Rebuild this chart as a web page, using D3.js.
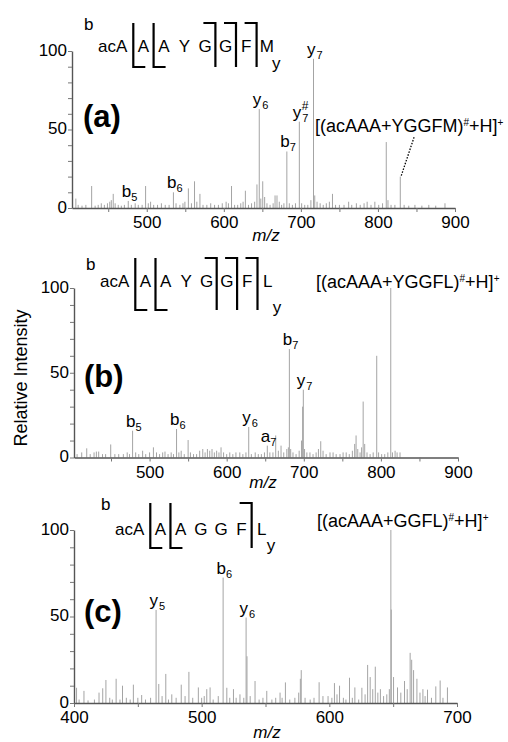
<!DOCTYPE html>
<html>
<head>
<meta charset="utf-8">
<script src="https://cdn.jsdelivr.net/npm/d3@7"></script>
<style>
body { margin: 0; background: white; }
text { font-family: "Liberation Sans", Arial, sans-serif; }
</style>
</head>
<body>
<script>
// MS/MS spectra of three cyclic/rearranged peptides: peaks are [m/z, relative intensity]

var peaksA = [[408,6],[411,2],[416,1.5],[421,2],[428.5,14],[433,1.5],[437,2],[441,3],[445,2],[449,3],[452,4],[454,5],[456.5,9],[459,3],[463,2],[467,1.5],[471,2],[476,4.5],[480,2],[485,3],[489,2],[494,2],[498.5,14],[502,3],[505,4],[509,2],[514,2],[519,3],[524,2],[529,2],[534.6,10],[538,3],[543,2],[547,3],[549.5,4],[554,12.5],[558,3],[562,17],[565,4],[569,9],[573,2],[578,2],[583,3],[588,2],[593,2],[598,3],[603,4],[606,3],[610,14],[614,2],[618,2],[622,3],[625,4],[628,11],[632,2],[636,3],[640,4],[643,15],[646,63],[648,6],[650.5,17],[653,7],[656,3],[660,2],[664,3],[666.5,8],[669,8],[672,4],[675,2],[678,3],[681.8,36],[685,3],[689,2],[693,3],[698,55],[701,3],[705,2],[709,2],[713,5],[716.4,95],[718,8],[721,4],[725,3],[729,2],[733,3],[737,4],[741,9],[745,2],[750,2],[756,2],[762,4],[766,2],[772,3],[777,2],[782,3],[786,4],[791,2],[796,4],[801,2],[806,3],[810.8,42],[813,5],[817,2],[822,2],[829,20],[834,2],[840,1.5],[848,2],[857,1.5],[866,2],[875,1.5],[887,3]];

var peaksB = [[406,2],[412,3],[418.5,5.4],[423,2],[428,3],[431,3.5],[434,3.5],[439,2],[443,2],[449.6,7.7],[455,2],[460,2],[466,2],[471,3],[474,2],[478,15.8],[482,3],[486,2],[491,4],[495,2],[500,3],[505,6],[509,3],[513,2],[517,3],[520,3.5],[524,2],[528,3],[531,2],[535,16.8],[538,3],[541,4],[545,2],[550,10.3],[553,3],[557,2],[561,2],[565,4],[569,5],[572,3],[575,5],[578,4],[581,5],[584,3],[587,4],[590,3],[592.7,6],[596,3],[600,2],[604,3],[608,2],[612,3],[617,3],[621,2],[625,3],[628.6,18],[632,2],[637,3],[641,2],[645,2],[649,3],[652.7,7],[656,3],[660,3],[663.6,13],[667,4],[670.5,7],[674,3],[678,5],[680,6],[681.3,64],[683,5],[686,3],[690,2],[694,4],[697,10],[698.5,30],[699.4,40],[701,5],[704,3],[708,3],[712,2],[716,3],[719,5],[722,9.6],[725,4],[729,2],[734,3],[738,3],[742,2],[747,2],[751,3],[755,3],[759,2],[763,4],[766,8],[767.8,13],[770,5],[773,3],[775,6],[777,33],[779,8],[782,3],[786,2],[790,3],[794.6,60],[797,3],[801,2],[805,2],[809,3],[812.8,100],[815,3],[818.4,4],[821,3],[824.8,3]];

var peaksC = [[402,8.8],[404,2],[407.8,7],[411,1.5],[416,2],[419.6,6],[422.5,8.5],[425,13.3],[428,3],[430,2],[433,14],[436,2],[438,10],[441,3],[444,2],[446.5,10.6],[450,3],[453,4.6],[456,2],[460,3],[464.3,53.8],[466.4,11],[469,4],[471.9,16.8],[474,2],[476.6,5],[480,3],[484,10.6],[487,4],[490,18],[493,3],[497.4,9],[500,3],[502,4],[504,8],[506.6,9],[509,2],[513,4],[516.8,72.5],[519.7,8.8],[522,3],[524.9,8],[527,3],[530,5],[533,3],[534.8,49.4],[535.5,27],[538,4],[541.8,12.7],[545,2],[548,3],[551,7],[555,2],[558,3],[561.4,6],[563,3],[565.6,11.9],[569,2],[573,3],[576,6],[577.3,14],[578,19],[581,3],[585,2],[588,3],[592,12],[595,4],[599,4],[602,3],[604,11.5],[606,5],[608,10],[611,3],[613,2],[615.8,14.6],[618,3],[620,9],[623,2],[625.5,8.8],[628,5],[630,22],[632,15],[634,8],[636,21],[638,6],[640,8],[642.5,4],[645,5],[647,8],[648.2,100],[648.5,54],[650.3,15],[653.4,9],[656,6],[658.9,12.7],[661,8],[663.3,29],[664.5,25],[666,19],[668.6,14],[671,6],[673.3,8],[675,4],[676.9,7.7],[680,3],[683.4,9.6],[686.8,13],[689,3],[692.5,9]];

// fragment labels: [m/z of peak, ion letter, subscript, superscript]
var labelsA = [[476,"b","5"],[534.6,"b","6"],[646,"y","6"],[681.8,"b","7"],[698,"y","7","#"],[716.4,"y","7"]];
var labelsB = [[478,"b","5"],[535,"b","6"],[628.6,"y","6"],[652.7,"a","7"],[681.3,"b","7"],[699.4,"y","7"]];
var labelsC = [[464.3,"y","5"],[516.8,"b","6"],[534.8,"y","6"]];

var seqA = ["acA","A","A","Y","G","G","F","M"];
var seqB = ["acA","A","A","Y","G","G","F","L"];
var seqC = ["acA","A","A","G","G","F","L"];
var bCutsA = [1,2], yCutsA = [5,6,7];
var bCutsB = [1,2], yCutsB = [5,6,7];
var bCutsC = [1,2], yCutsC = [6];

var precA = ["[(acAAA+YGGFM)","#","+H]","+"];
var precB = ["[(acAAA+YGGFL)","#","+H]","+"];
var precC = ["[(acAAA+GGFL)","#","+H]","+"];

var ticksAB = [450,500,550,600,650,700,750,800,850,900];
var ticksC = [400,450,500,550,600,650,700];
var yTicks = [0,10,20,30,40,50,60,70,80,90,100];

var svg = d3.select("body").append("svg").attr("width", 508).attr("height", 742);
svg.append("rect").attr("width", 508).attr("height", 742).attr("fill", "white");

function DrawPanel(p){
  var x = d3.scaleLinear().domain(p.xDomain).range(p.xRange);
  var y = d3.scaleLinear().domain([0,100]).range(p.yRange);
  var g = svg.append("g");

  g.selectAll("line.peak").data(p.peaks).enter().append("line")
    .attr("class","peak")
    .attr("x1", function(d){return x(d[0]);}).attr("x2", function(d){return x(d[0]);})
    .attr("y1", y(0)).attr("y2", function(d){return y(d[1]);})
    .attr("stroke", "#a4a4a4").attr("stroke-width", 1);

  var xAxis = d3.axisBottom(x).tickValues(p.xTicks).tickSize(4).tickSizeOuter(0).tickPadding(4)
    .tickFormat(function(d){return d % 100 === 0 ? d : "";});
  var gx = g.append("g").attr("transform", "translate(0," + y(0) + ")").call(xAxis);
  var yAxis = d3.axisLeft(y).tickValues(yTicks).tickSize(4).tickSizeOuter(0).tickPadding(1)
    .tickFormat(function(d){return d % 50 === 0 ? d : "";});
  var gy = g.append("g").attr("transform", "translate(" + p.xRange[0] + ",0)").call(yAxis);
  [gx, gy].forEach(function(a){
    a.select(".domain").attr("stroke", "#555").attr("stroke-width", 1.4);
    a.selectAll(".tick line").attr("stroke", "#777");
    a.selectAll(".tick text").style("font-size", "17px").style("font-family", "'Liberation Sans', Arial, sans-serif").attr("fill", "black");
  });
  gy.selectAll(".tick text").attr("dy", "0.25em");

  g.append("text").attr("x", p.mzX).attr("y", p.mzY).attr("text-anchor", "middle")
    .style("font-size", "17px").style("font-style", "italic").text("m/z");

  g.append("text").attr("x", p.tagX).attr("y", p.tagY)
    .style("font-size", "31px").style("font-weight", "bold").text(p.tag);

  // fragment ion labels sit just above their peak
  p.labels.forEach(function(l){
    var pk = p.peaks.filter(function(d){return d[0] === l[0];})[0];
    var lx = x(pk[0]) - 6.5, ly = y(pk[1]) - 4;
    g.append("text").attr("x", lx).attr("y", ly).style("font-size", "17px").text(l[1]);
    g.append("text").attr("x", lx + 9.5).attr("y", ly + 4).style("font-size", "11px").text(l[2]);
    if(l[3]){ g.append("text").attr("x", lx + 9).attr("y", ly - 8).style("font-size", "12px").text(l[3]); }
  });

  // precursor label
  var pt = g.append("text").attr("x", p.precX).attr("y", p.precY).style("font-size", "18px");
  pt.append("tspan").text(p.prec[0]);
  pt.append("tspan").attr("dy", -6).style("font-size", "10px").text(p.prec[1]);
  pt.append("tspan").attr("dy", 6).text(p.prec[2]);
  pt.append("tspan").attr("dy", -6).style("font-size", "10px").text(p.prec[3]);

  if(p.leader){
    var pk = p.peaks.filter(function(d){return d[0] === p.leader;})[0];
    g.append("line").attr("x1", x(pk[0]) + 1).attr("y1", y(pk[1]) - 1)
      .attr("x2", x(pk[0]) + 14).attr("y2", y(pk[1]) - 40)
      .attr("stroke", "black").attr("stroke-width", 1.3).attr("stroke-dasharray", "1.5,1.5");
  }

  DrawSequence(p);
} // Ends Function DrawPanel

function DrawSequence(s){
  var g = svg.append("g");
  var t0 = g.append("text").attr("x", s.seqX).attr("y", s.seqY).style("font-size", "17px").text(s.seq[0]);
  var w0 = t0.node().getComputedTextLength();
  var c1 = s.seqX + w0 + 16;
  function cx(i){ return c1 + (i - 1) * s.step; }
  for(var i = 1; i < s.seq.length; i++){
    g.append("text").attr("x", cx(i)).attr("y", s.seqY).attr("text-anchor", "middle")
      .style("font-size", "17px").text(s.seq[i]);
  }
  function bx(k){ return k === 1 ? s.seqX + w0 + 6 : (cx(k - 1) + cx(k)) / 2; }
  s.bCuts.forEach(function(k){
    g.append("path").attr("d", "M" + bx(k) + "," + s.brTop + "V" + s.brBot + "H" + (bx(k) + 12))
      .attr("fill", "none").attr("stroke", "black").attr("stroke-width", 2.2);
  });
  s.yCuts.forEach(function(k){
    g.append("path").attr("d", "M" + (bx(k) - 12) + "," + s.brTop + "H" + bx(k) + "V" + s.brBot)
      .attr("fill", "none").attr("stroke", "black").attr("stroke-width", 2.2);
  });
  g.append("text").attr("x", s.seqX - 14).attr("y", s.bY).style("font-size", "17px").text("b");
  g.append("text").attr("x", cx(s.seq.length - 1) + 5).attr("y", s.yY).style("font-size", "17px").text("y");
} // Ends Function DrawSequence

DrawPanel({peaks: peaksA, labels: labelsA, xDomain: [403,900], xRange: [72,455], yRange: [208,51], xTicks: ticksAB,
  mzX: 266, mzY: 241, tag: "(a)", tagX: 83, tagY: 127, prec: precA, precX: 315, precY: 132, leader: 829,
  seq: seqA, bCuts: bCutsA, yCuts: yCutsA, seqX: 98, seqY: 52, step: 20.6, brTop: 23, brBot: 67, bY: 30, yY: 69});

DrawPanel({peaks: peaksB, labels: labelsB, xDomain: [402,900], xRange: [74,458], yRange: [457.5,288], xTicks: ticksAB,
  mzX: 263, mzY: 488, tag: "(b)", tagX: 84, tagY: 387, prec: precB, precX: 316, precY: 288,
  seq: seqB, bCuts: bCutsB, yCuts: yCutsB, seqX: 100, seqY: 287, step: 20.4, brTop: 258, brBot: 310, bY: 270, yY: 313});

DrawPanel({peaks: peaksC, labels: labelsC, xDomain: [400,700], xRange: [74,457], yRange: [703,530], xTicks: ticksC,
  mzX: 267, mzY: 738, tag: "(c)", tagX: 84, tagY: 622, prec: precC, precX: 317, precY: 527,
  seq: seqC, bCuts: bCutsC, yCuts: yCutsC, seqX: 115, seqY: 535, step: 20.3, brTop: 503, brBot: 548, bY: 510, yY: 551});

svg.append("text").attr("transform", "translate(27,378)rotate(-90)").attr("text-anchor", "middle")
  .style("font-size", "18px").text("Relative Intensity");
</script>
</body>
</html>
